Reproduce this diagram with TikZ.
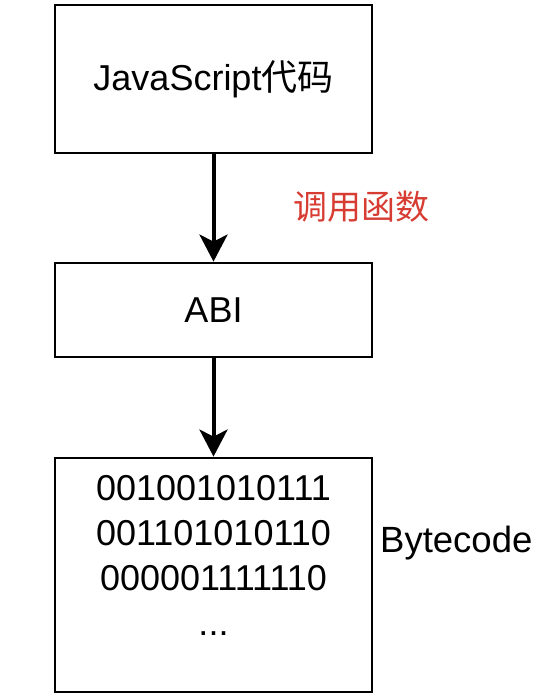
\documentclass[tikz,border=0pt]{standalone}
\usepackage{fontspec}
\setmainfont{Liberation Sans}
\newfontfamily\cjk{Noto Sans CJK SC}
\usetikzlibrary{arrows.meta,positioning}
\definecolor{callred}{RGB}{215,60,50}

\begin{document}
\begin{tikzpicture}[x=1bp, y=-1bp,
        layer/.style={draw, line width=2.8bp, minimum width=317bp, inner sep=0pt,
                      font=\fontsize{36bp}{45bp}\selectfont},
        flow/.style={-{Stealth[length=27bp, width=28bp, inset=7bp]}, line width=4bp}]
        \useasboundingbox (0,0) rectangle (538,696);
        \node[layer, minimum height=148bp] (js) at (213.5,79) {JavaScript{\cjk 代码}};
        \node[layer, minimum height=94bp] (abi) at (213.5,310) {ABI};
        \node[layer, minimum height=234bp] (code) at (213.5,575) {};
        \node[font=\fontsize{36bp}{45bp}\selectfont, align=center, inner sep=0pt, anchor=north]
          (bits) at (213.5,475) {001001010111\\001101010110\\000001111110\\...};
        \node[font=\fontsize{34bp}{40bp}\selectfont\cjk, text=callred, inner sep=0pt]
          (call) at (361.5,207) {调用函数};
        \node[font=\fontsize{36.5bp}{44bp}\selectfont, inner sep=0pt, anchor=west]
          (bytecode) at (380,543) {Bytecode};
        \draw[flow] (js) -- (abi);
        \draw[flow] (abi) -- (code);
      \end{tikzpicture}
\end{document}
